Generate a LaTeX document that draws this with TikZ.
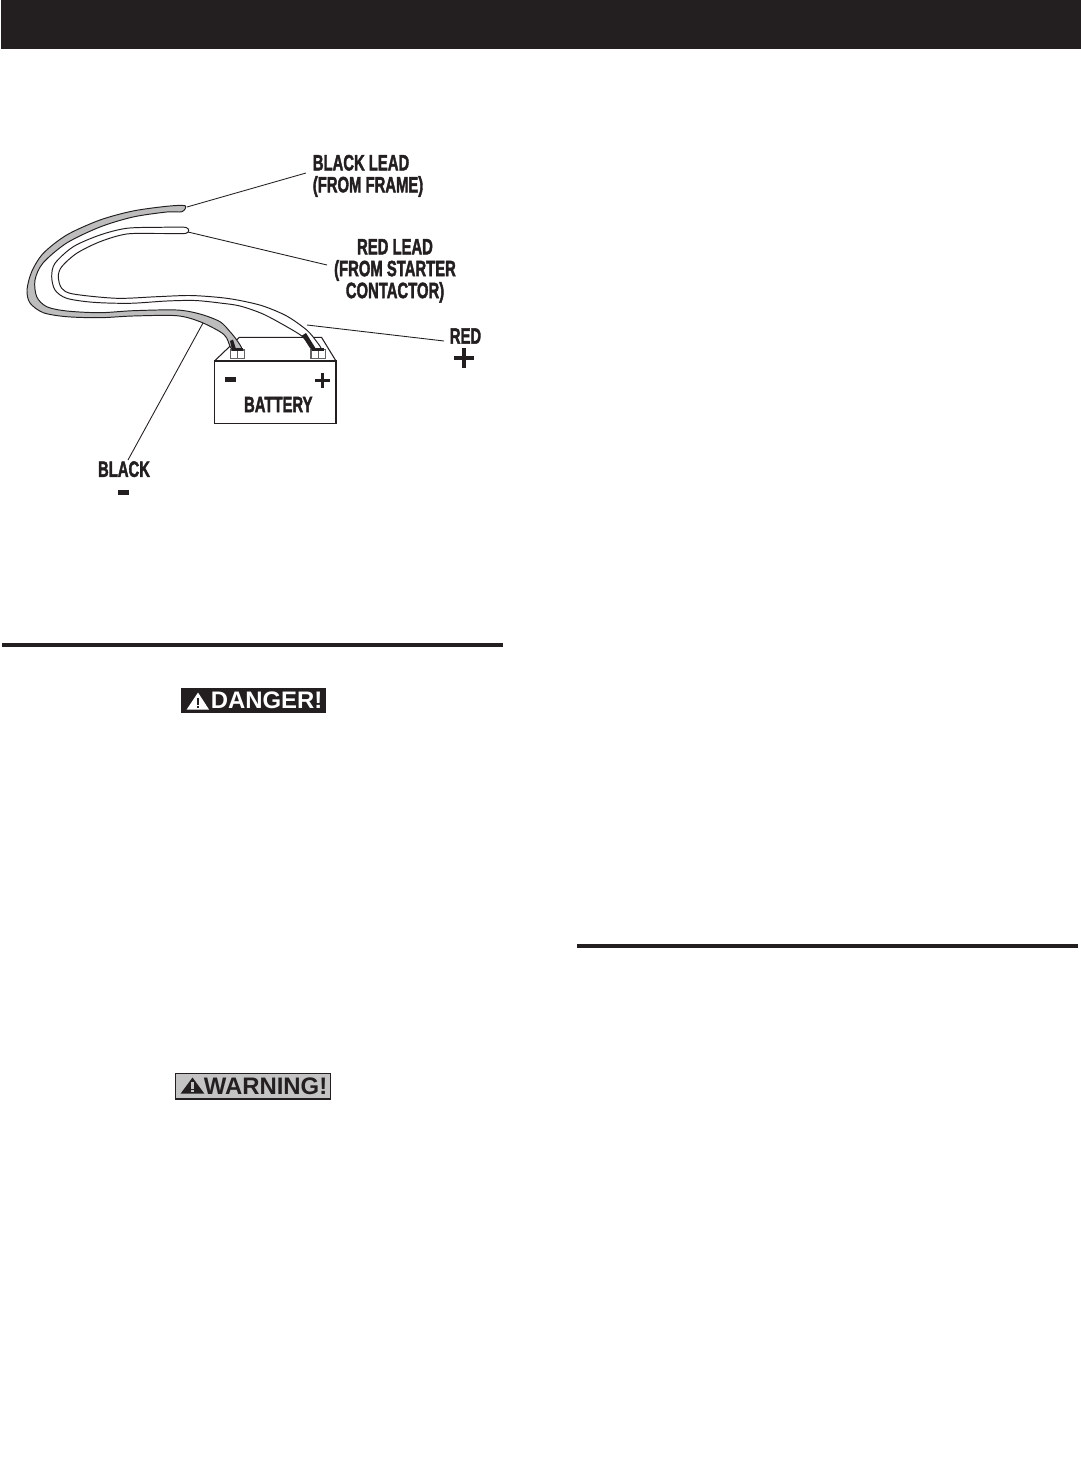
\documentclass[tikz,border=0pt]{standalone}
\usepackage{fontspec}
\usepackage{graphicx}
\setmainfont{Liberation Sans}
\newfontfamily\leadfont{Liberation Sans}[BoldFeatures={FakeBold=2.4}]
\usetikzlibrary{positioning}
\definecolor{BarInk}{HTML}{231F20}
\definecolor{WireGrey}{HTML}{BDBDBD}
\definecolor{WarnGrey}{HTML}{C4C4C4}
\newcommand{\narrowtxt}[2][c]{\scalebox{.67}[1]{\begin{tabular}{@{}#1@{}}#2\end{tabular}}}

\begin{document}
\begin{tikzpicture}[
          x=0.02cm,y=-0.02cm,
          leader/.style={line width=0.5pt,draw=BarInk},
          wirecase/.style={line width=0.55pt,draw=BarInk},
          rule/.style={line width=2.3pt,draw=BarInk},
          leadlabel/.style={inner sep=0pt,text=BarInk,font=\leadfont\bfseries\fontsize{12.6}{11.1}\selectfont},
          signlabel/.style={inner sep=0pt,text=BarInk,font=\bfseries\fontsize{13.6}{13}\selectfont},
          termbox/.style={line width=0.6pt,draw=BarInk!70,fill=white}
        ]
        \path[use as bounding box] (0,0) rectangle (1081,1464);
        \fill[BarInk] (1,0) rectangle (1081,49);
        \draw[rule] (2,645) -- (503,645);
        \draw[rule] (577,946) -- (1078,946);

        % battery
        \draw[line width=0.6pt,draw=BarInk,fill=white] (214.5,361) rectangle (336,423.3);
        \draw[line width=0.6pt,draw=BarInk] (214.5,361) -- (239.3,337.3) -- (321.5,337.3) -- (336,361);
        \draw[termbox] (230.5,350) rectangle (244.7,358.3);
        \draw[termbox] (237.7,350) -- (237.7,358.3);
        \draw[termbox] (311,349.5) rectangle (325.7,358.9);
        \draw[termbox] (318.3,349.5) -- (318.3,358.9);
        \fill[BarInk] (225,377.3) rectangle (236,382.3);
        \fill[BarInk] (315.2,378.7) rectangle (330,381.7);
        \fill[BarInk] (321.2,373) rectangle (324.2,387.5);
        \node[leadlabel] (battery) at (278.3,407.5) {\narrowtxt{BATTERY}};

        % red lead
        \draw[wirecase,fill=white] plot[smooth cycle,tension=.5] coordinates {
          (186,227.5) (160,227.3) (126.7,228.3) (100,235) (73.3,246.7) (55,263.3)
          (51.7,276.7) (55,290) (66.7,298.3) (93.3,302.3) (130,303.3) (166.7,301)
          (195,300.5) (220,303) (240,306) (263,314) (286.7,326.7) (303,337) (311.7,349)
          (321,349) (316.7,341.7) (306.7,330) (286.7,316) (263,306) (240,300.5)
          (220,297.5) (190,295.5)
          (156.7,296.7) (116.7,298.3) (73.3,294) (61.7,288.3) (58.3,276.7) (61.7,266.7)
          (76.7,253.3) (100,241.7) (126.7,234) (160,233.5) (186,233.3)};
        \fill[BarInk] (302,335.5) -- (306,333) -- (316,349) -- (311.5,349.5) -- cycle;
        \draw[line width=1.2pt,draw=BarInk] (312,349.5) -- (324,349.5);

        % black lead
        \draw[wirecase,fill=WireGrey] plot[smooth cycle,tension=.5] coordinates {
          (185,205.7) (166.7,206.3) (133,211) (100,220) (66.7,235) (43.3,253.3)
          (31.7,271.7) (27,290) (30,303) (43.3,312.7) (66.7,316.7) (100,317.7)
          (133,316) (176.7,315.7) (200,321.7) (220,331.7) (226.7,338) (231.7,349)
          (241.7,349) (236.7,340) (230,331.7) (220,321.7) (200,314) (176.7,310) (133,310.7)
          (100,312.7) (66.7,311) (46.7,306.7) (36.7,296.7) (35,280) (43,263)
          (66.7,243) (100,227) (133,217) (166.7,212) (182,211.7)};
        \fill[BarInk] (230,341) -- (233,339.5) -- (236,349) -- (232,349.5) -- cycle;
        \draw[line width=1.2pt,draw=BarInk] (232,349.5) -- (243,349.5);

        % leaders
        \node[leadlabel,anchor=west] (framelabel) at (312.5,176.5) {\narrowtxt[l]{BLACK LEAD\\(FROM FRAME)}};
        \node[leadlabel] (starterlabel) at (395,271.5) {\narrowtxt{RED LEAD\\(FROM STARTER\\CONTACTOR)}};
        \node[leadlabel] (redlabel) at (465.5,339) {\narrowtxt{RED}};
        \node[leadlabel] (blacklabel) at (124,472) {\narrowtxt{BLACK}};
        \coordinate (frameend) at (187,207);
        \coordinate (frametip) at (306,173);
        \coordinate (starterend) at (188,232);
        \coordinate (startertip) at (327,265);
        \coordinate (redend) at (307,325);
        \coordinate (redtip) at (444,341);
        \coordinate (blackend) at (203,323);
        \coordinate (blacktip) at (128,460);
        \draw[leader] (frameend) -- (frametip);
        \draw[leader] (starterend) -- (startertip);
        \draw[leader] (redend) -- (redtip);
        \draw[leader] (blackend) -- (blacktip);

        % polarity marks
        \fill[BarInk] (454,356) rectangle (474,360);
        \fill[BarInk] (462,348) rectangle (466,368);
        \fill[BarInk] (118,490) rectangle (129,494.5);

        % danger tag
        \fill[BarInk] (180.7,688) rectangle (326,713);
        \fill[white] (186.7,709.5) -- (198,692.5) -- (209,709.5) -- cycle;
        \fill[BarInk] (196.7,697.5) rectangle (199.3,704.5);
        \fill[BarInk] (196.7,705.5) rectangle (199.3,708);
        \node[signlabel,text=white,anchor=west] (dangertag) at (210.5,700.7) {DANGER!};

        % warning tag
        \draw[line width=0.6pt,draw=BarInk,fill=WarnGrey] (175.3,1073.5) rectangle (330.5,1099);
        \fill[BarInk] (180.7,1093.5) -- (192.5,1077.5) -- (204.3,1093.5) -- cycle;
        \fill[WarnGrey] (191.2,1082) rectangle (193.8,1088.5);
        \fill[WarnGrey] (191.2,1089.5) rectangle (193.8,1092);
        \node[signlabel,anchor=west] (warningtag) at (203.5,1086.7) {WARNING!};
      \end{tikzpicture}
\end{document}
